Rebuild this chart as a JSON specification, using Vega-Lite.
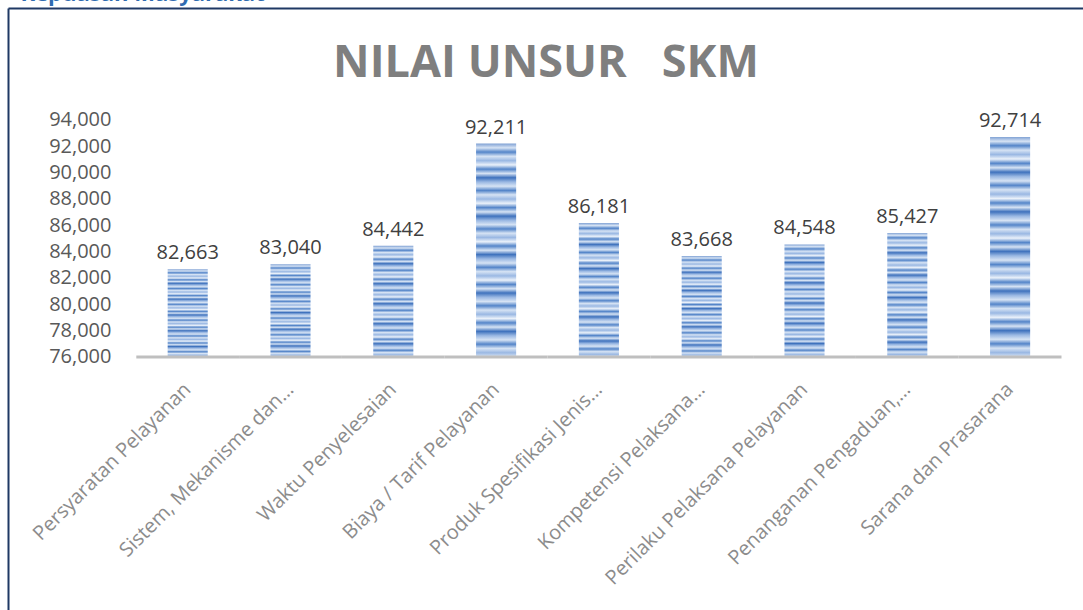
{
  "$schema": "https://vega.github.io/schema/vega-lite/v6.json",
  "width": 1075,
  "height": 602,
  "autosize": {"type": "none"},
  "padding": {"left": 8, "top": 8, "right": 0, "bottom": 0},
  "background": "white",
  "config": {
    "view": {"stroke": null},
    "axisY": {
      "domain": true, "domainColor": "#1f3864", "domainWidth": 2,
      "ticks": false, "tickSize": 0, "grid": false,
      "labelPadding": -103, "labelFont": "Open Sans", "labelFontSize": 20, "labelColor": "#595959", "labelFlush": false,
      "titleAngle": 0, "titleX": 12, "titleY": -8, "titleAlign": "left", "titleBaseline": "alphabetic",
      "titleFont": "Open Sans", "titleFontSize": 22, "titleFontWeight": "bold", "titleColor": "#2e6bb0"
    }
  },
  "data": {"values": [
    {"unsur": "Persyaratan Pelayanan", "nilai": 82663},
    {"unsur": "Sistem, Mekanisme dan…", "nilai": 83040},
    {"unsur": "Waktu Penyelesaian", "nilai": 84442},
    {"unsur": "Biaya / Tarif Pelayanan", "nilai": 92211},
    {"unsur": "Produk Spesifikasi Jenis…", "nilai": 86181},
    {"unsur": "Kompetensi Pelaksana…", "nilai": 83668},
    {"unsur": "Perilaku Pelaksana Pelayanan", "nilai": 84548},
    {"unsur": "Penanganan Pengaduan,…", "nilai": 85427},
    {"unsur": "Sarana dan Prasarana", "nilai": 92714}
  ]},
  "resolve": {"axis": {"x": "independent"}},
  "layer": [
    {
      "mark": {
        "type": "bar",
        "width": {"band": 0.39},
        "color": {
          "gradient": "linear", "x1": 0, "y1": 0, "x2": 0, "y2": 1,
          "stops": [
            {"offset": 0.00, "color": "#7fa1d4"},
            {"offset": 0.02, "color": "#d6e3f4"},
            {"offset": 0.04, "color": "#5485c9"},
            {"offset": 0.06, "color": "#d6e3f4"},
            {"offset": 0.08, "color": "#9ab8e3"},
            {"offset": 0.10, "color": "#eaf1fa"},
            {"offset": 0.12, "color": "#5485c9"},
            {"offset": 0.14, "color": "#d6e3f4"},
            {"offset": 0.16, "color": "#3f72bd"},
            {"offset": 0.18, "color": "#9ab8e3"},
            {"offset": 0.20, "color": "#d6e3f4"},
            {"offset": 0.22, "color": "#5485c9"},
            {"offset": 0.24, "color": "#d6e3f4"},
            {"offset": 0.26, "color": "#9ab8e3"},
            {"offset": 0.28, "color": "#eaf1fa"},
            {"offset": 0.30, "color": "#5485c9"},
            {"offset": 0.32, "color": "#d6e3f4"},
            {"offset": 0.34, "color": "#3f72bd"},
            {"offset": 0.36, "color": "#9ab8e3"},
            {"offset": 0.38, "color": "#d6e3f4"},
            {"offset": 0.40, "color": "#5485c9"},
            {"offset": 0.42, "color": "#d6e3f4"},
            {"offset": 0.44, "color": "#9ab8e3"},
            {"offset": 0.46, "color": "#eaf1fa"},
            {"offset": 0.48, "color": "#5485c9"},
            {"offset": 0.50, "color": "#d6e3f4"},
            {"offset": 0.52, "color": "#3f72bd"},
            {"offset": 0.54, "color": "#9ab8e3"},
            {"offset": 0.56, "color": "#d6e3f4"},
            {"offset": 0.58, "color": "#5485c9"},
            {"offset": 0.60, "color": "#d6e3f4"},
            {"offset": 0.62, "color": "#9ab8e3"},
            {"offset": 0.64, "color": "#eaf1fa"},
            {"offset": 0.66, "color": "#5485c9"},
            {"offset": 0.68, "color": "#d6e3f4"},
            {"offset": 0.70, "color": "#3f72bd"},
            {"offset": 0.72, "color": "#9ab8e3"},
            {"offset": 0.74, "color": "#d6e3f4"},
            {"offset": 0.76, "color": "#5485c9"},
            {"offset": 0.78, "color": "#d6e3f4"},
            {"offset": 0.80, "color": "#9ab8e3"},
            {"offset": 0.82, "color": "#eaf1fa"},
            {"offset": 0.84, "color": "#5485c9"},
            {"offset": 0.86, "color": "#d6e3f4"},
            {"offset": 0.88, "color": "#3f72bd"},
            {"offset": 0.90, "color": "#9ab8e3"},
            {"offset": 0.92, "color": "#d6e3f4"},
            {"offset": 0.94, "color": "#5485c9"},
            {"offset": 0.96, "color": "#d6e3f4"},
            {"offset": 0.98, "color": "#9ab8e3"},
            {"offset": 1.00, "color": "#dce7f6"}
          ]
        }
      },
      "encoding": {
        "x": {
          "field": "unsur", "type": "nominal", "sort": null,
          "scale": {"paddingInner": 0, "paddingOuter": 0.7286, "align": 0.8565},
          "axis": {
            "orient": "bottom", "offset": -253, "domain": false, "ticks": false, "grid": false,
            "labelAngle": -45, "labelAlign": "right", "labelBaseline": "middle", "labelPadding": 29,
            "labelFont": "Open Sans", "labelFontSize": 20, "labelColor": "#8c8c8c", "labelLimit": 400,
            "labelOverlap": false, "title": null
          }
        },
        "y": {
          "field": "nilai", "type": "quantitative",
          "scale": {"domain": [56785, 102506], "nice": false, "zero": false},
          "axis": {"values": [76000, 78000, 80000, 82000, 84000, 86000, 88000, 90000, 92000, 94000], "format": ",d", "title": "Kepuasan Masyarakat"}
        },
        "y2": {"datum": 76000}
      }
    },
    {
      "mark": {"type": "rule", "color": "#bfbfbf", "strokeWidth": 3, "strokeCap": "butt"},
      "encoding": {
        "x": {"field": "unsur", "type": "nominal", "sort": null, "bandPosition": 0,
              "scale": {"paddingInner": 0, "paddingOuter": 0.7286, "align": 0.8565}, "axis": null},
        "x2": {"field": "unsur", "bandPosition": 1},
        "y": {
          "datum": 76000, "type": "quantitative",
          "scale": {"domain": [56785, 102506], "nice": false, "zero": false},
          "axis": {"values": [76000, 78000, 80000, 82000, 84000, 86000, 88000, 90000, 92000, 94000], "format": ",d", "title": "Kepuasan Masyarakat"}
        }
      }
    },
    {
      "mark": {"type": "text", "font": "Open Sans", "fontSize": 20, "color": "#404040", "baseline": "alphabetic", "dy": -10},
      "encoding": {
        "x": {
          "field": "unsur", "type": "nominal", "sort": null,
          "scale": {"paddingInner": 0, "paddingOuter": 0.7286, "align": 0.8565},
          "axis": {
            "orient": "top", "domain": true, "domainColor": "#1f3864", "domainWidth": 2,
            "ticks": false, "labels": false, "grid": false,
            "title": "NILAI UNSUR\u00a0\u00a0\u00a0SKM", "titleFont": "Open Sans", "titleFontSize": 45, "titleFontWeight": "bold",
            "titleColor": "#7f7f7f", "titleY": 68, "titleBaseline": "alphabetic", "titleAngle": 0
          }
        },
        "y": {
          "field": "nilai", "type": "quantitative",
          "scale": {"domain": [56785, 102506], "nice": false, "zero": false},
          "axis": {"values": [76000, 78000, 80000, 82000, 84000, 86000, 88000, 90000, 92000, 94000], "format": ",d", "title": "Kepuasan Masyarakat"}
        },
        "text": {"field": "nilai", "type": "quantitative", "format": ","}
      }
    }
  ]
}
